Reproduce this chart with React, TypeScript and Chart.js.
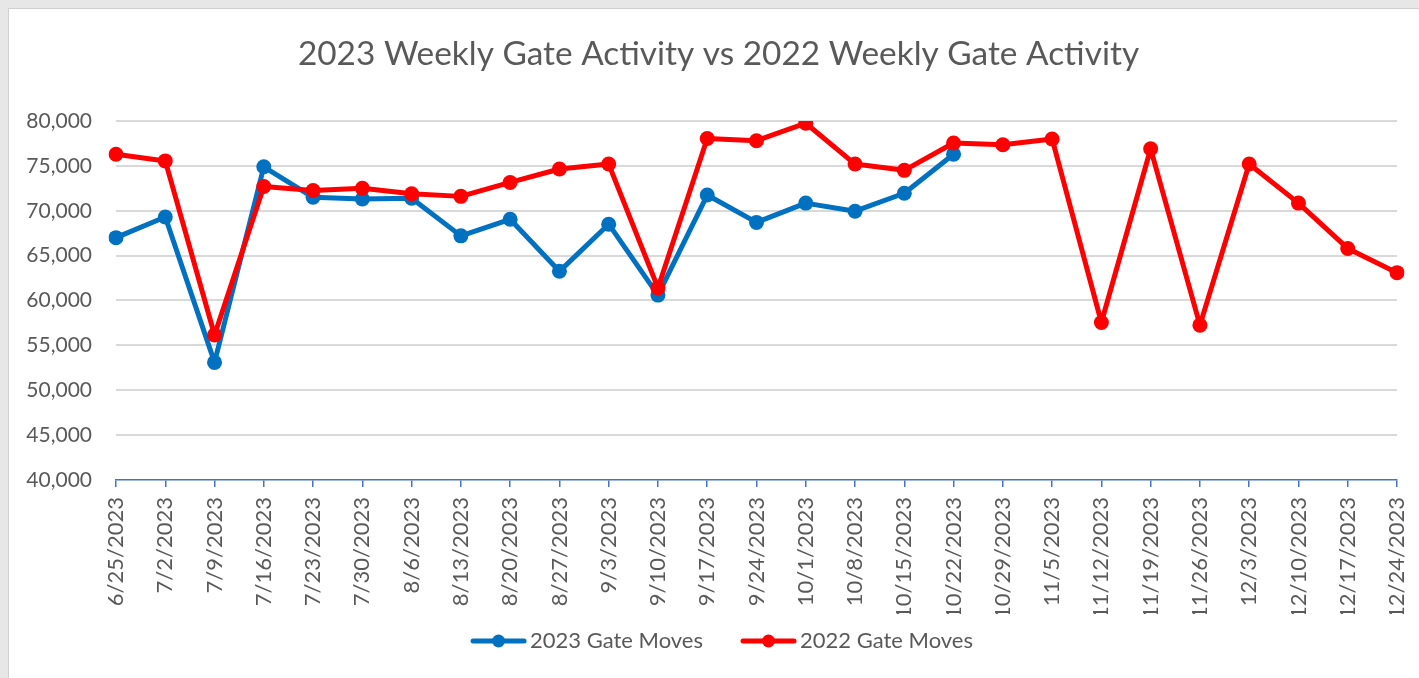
import React, { useEffect, useRef } from "react";
import { Chart, registerables } from "chart.js";

Chart.register(...registerables);

const categories = [
  "6/25/2023", "7/2/2023", "7/9/2023", "7/16/2023", "7/23/2023", "7/30/2023",
  "8/6/2023", "8/13/2023", "8/20/2023", "8/27/2023", "9/3/2023", "9/10/2023",
  "9/17/2023", "9/24/2023", "10/1/2023", "10/8/2023", "10/15/2023", "10/22/2023",
  "10/29/2023", "11/5/2023", "11/12/2023", "11/19/2023", "11/26/2023", "12/3/2023",
  "12/10/2023", "12/17/2023", "12/24/2023",
];

const gateMoves2023: (number | null)[] = [
  67000, 69300, 53100, 74900, 71500, 71300, 71400, 67200, 69050, 63250, 68500, 60600,
  71750, 68700, 70850, 69950, 71950, 76300,
  null, null, null, null, null, null, null, null, null,
];

const gateMoves2022: number[] = [
  76300, 75550, 56150, 72700, 72250, 72500, 71900, 71600, 73150, 74650, 75200, 61400,
  78050, 77800, 79750, 75200, 74500, 77550, 77350, 78000, 57550, 76900, 57250, 75200,
  70850, 65800, 63100,
];

const seriesNames = ["2023 Gate Moves", "2022 Gate Moves"];
const titleText = "2023 Weekly Gate Activity vs 2022 Weekly Gate Activity";
const yMin = 40000;
const yMax = 80000;
const yStep = 5000;

const BLUE = "#0070C0";
const RED = "#FF0000";
const AXIS = "#4472C4";
const TEXT = "#595959";
const GRID = "#D9D9D9";
const FONT = "Lato";

// legend symbol: transparent lead-in, then a line with a dot
function makeIcon(color: string): HTMLCanvasElement {
  const c = document.createElement("canvas");
  c.width = 86;
  c.height = 16;
  const g = c.getContext("2d")!;
  const x0 = 29;
  g.strokeStyle = color;
  g.lineWidth = 5;
  g.lineCap = "round";
  g.beginPath();
  g.moveTo(x0 + 3, 8);
  g.lineTo(x0 + 54, 8);
  g.stroke();
  g.fillStyle = color;
  g.beginPath();
  g.arc(x0 + 28.5, 8, 6.5, 0, Math.PI * 2);
  g.fill();
  return c;
}

const titleShift = {
  id: "titleShift",
  afterLayout(chart: any) {
    if (chart.titleBlock) chart.titleBlock.left += 15;
  },
};

export default function App() {
  const ref = useRef<HTMLCanvasElement>(null);

  useEffect(() => {
    document.body.style.background = "#E7E7E7";
    const colors = [BLUE, RED];
    const icons = colors.map(makeIcon);
    const chart = new Chart(ref.current!, {
      type: "line",
      data: {
        labels: categories,
        datasets: [
          {
            label: seriesNames[0],
            data: gateMoves2023,
            borderColor: BLUE,
            backgroundColor: BLUE,
            borderWidth: 5,
            pointRadius: 7.5,
            pointBorderWidth: 0,
            pointBackgroundColor: BLUE,
            borderJoinStyle: "round",
            borderCapStyle: "round",
            spanGaps: false,
            order: 1,
          },
          {
            label: seriesNames[1],
            data: gateMoves2022,
            borderColor: RED,
            backgroundColor: RED,
            borderWidth: 5,
            pointRadius: 7.5,
            pointBorderWidth: 0,
            pointBackgroundColor: RED,
            borderJoinStyle: "round",
            borderCapStyle: "round",
            order: 0,
          },
        ],
      },
      plugins: [titleShift],
      options: {
        responsive: false,
        animation: false,
        layout: { padding: { left: 16, right: 22, top: 0, bottom: 16 } },
        plugins: {
          title: {
            display: true,
            text: titleText,
            color: TEXT,
            font: { family: FONT, size: 33.4, weight: "normal", lineHeight: 1.2 },
            padding: { top: 25, bottom: 46.9 },
          },
          legend: {
            position: "bottom",
            labels: {
              usePointStyle: true,
              pointStyleWidth: 70,
              boxHeight: 16,
              padding: 16,
              color: TEXT,
              font: { family: FONT, size: 22 },
              generateLabels: (ch: any) =>
                ch.data.datasets.map((ds: any, i: number) => ({
                  text: ds.label,
                  pointStyle: icons[i],
                  datasetIndex: i,
                  fillStyle: colors[i],
                  strokeStyle: colors[i],
                  lineWidth: 0,
                  hidden: false,
                  fontColor: TEXT,
                })),
            },
          },
          tooltip: { enabled: false },
        },
        scales: {
          x: {
            type: "category",
            offset: false,
            grid: {
              display: true,
              drawOnChartArea: false,
              drawTicks: true,
              tickLength: 7,
              color: AXIS,
              lineWidth: 1.5,
            },
            border: { display: true, color: AXIS, width: 1.5 },
            ticks: {
              autoSkip: false,
              minRotation: 90,
              maxRotation: 90,
              padding: 10,
              color: TEXT,
              font: { family: FONT, size: 22 },
            },
            afterFit: (s: any) => {
              s.height = 134;
              s.paddingLeft = 0;
              s.paddingRight = 0;
            },
          },
          y: {
            min: yMin,
            max: yMax,
            ticks: {
              stepSize: yStep,
              padding: 24,
              color: TEXT,
              font: { family: FONT, size: 21 },
              callback: (v: any) => Number(v).toLocaleString("en-US"),
            },
            grid: {
              color: (c: any) => (c.tick && c.tick.value === yMin ? "rgba(0,0,0,0)" : GRID),
              lineWidth: 2,
              drawTicks: false,
            },
            border: { display: false },
            afterFit: (s: any) => {
              s.width = 91;
            },
          },
        },
      },
    } as any);
    return () => chart.destroy();
  }, []);

  return (
    <div
      style={{
        position: "fixed",
        left: 8,
        top: 8,
        width: 1411,
        height: 670,
        boxSizing: "border-box",
        borderTop: "1px solid #D0D0D0",
        borderLeft: "1px solid #D0D0D0",
        background: "#FFFFFF",
      }}
    >
      <canvas ref={ref} width={1410} height={669} style={{ display: "block" }} />
    </div>
  );
}
